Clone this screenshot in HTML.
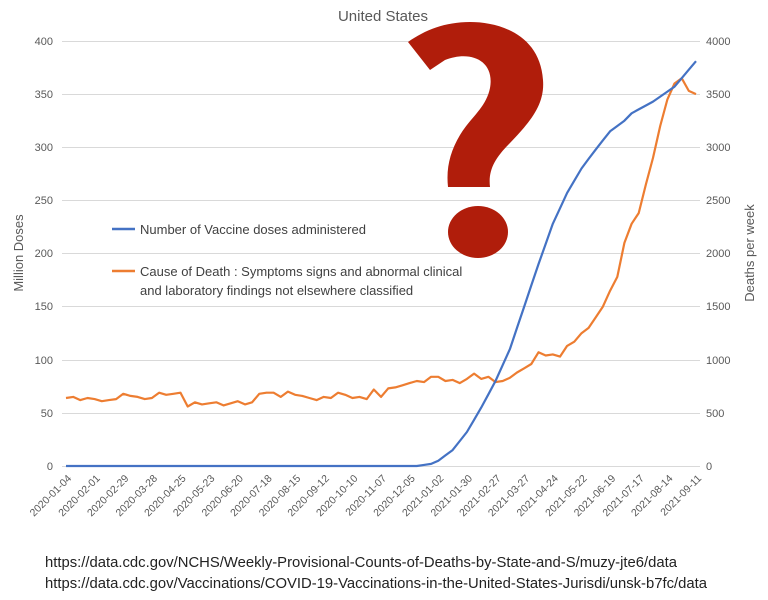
<!DOCTYPE html>
<html><head><meta charset="utf-8"><style>
html,body{margin:0;padding:0;background:#fff;}
svg{display:block;font-family:"Liberation Sans",sans-serif;}
</style></head><body>
<svg id="s" width="768" height="600" viewBox="0 0 768 600">
<rect width="768" height="600" fill="#fff"/>
<g stroke="#d9d9d9" stroke-width="1">
<line x1="62" y1="41.5" x2="700" y2="41.5"/>
<line x1="62" y1="94.5" x2="700" y2="94.5"/>
<line x1="62" y1="147.5" x2="700" y2="147.5"/>
<line x1="62" y1="200.5" x2="700" y2="200.5"/>
<line x1="62" y1="253.5" x2="700" y2="253.5"/>
<line x1="62" y1="306.5" x2="700" y2="306.5"/>
<line x1="62" y1="360.5" x2="700" y2="360.5"/>
<line x1="62" y1="413.5" x2="700" y2="413.5"/>
<line x1="62" y1="466.5" x2="700" y2="466.5"/>
</g>
<g font-size="11" fill="#595959" text-anchor="end">
<text x="53" y="45">400</text><text x="53" y="98">350</text><text x="53" y="151">300</text><text x="53" y="204">250</text><text x="53" y="257">200</text><text x="53" y="310">150</text><text x="53" y="364">100</text><text x="53" y="417">50</text><text x="53" y="470">0</text>
</g>
<g font-size="11" fill="#595959">
<text x="706" y="45">4000</text><text x="706" y="98">3500</text><text x="706" y="151">3000</text><text x="706" y="204">2500</text><text x="706" y="257">2000</text><text x="706" y="310">1500</text><text x="706" y="364">1000</text><text x="706" y="417">500</text><text x="706" y="470">0</text>
</g>
<text x="383" y="21" font-size="15" fill="#595959" text-anchor="middle">United States</text>
<text transform="translate(23,253) rotate(-90)" font-size="13" fill="#595959" text-anchor="middle">Million Doses</text>
<text transform="translate(754,253) rotate(-90)" font-size="13" fill="#595959" text-anchor="middle">Deaths per week</text>
<g id="xl" font-size="10.5" fill="#595959" text-anchor="end">
<text transform="translate(72,479) rotate(-45)">2020-01-04</text>
<text transform="translate(100.6,479) rotate(-45)">2020-02-01</text>
<text transform="translate(129.3,479) rotate(-45)">2020-02-29</text>
<text transform="translate(157.9,479) rotate(-45)">2020-03-28</text>
<text transform="translate(186.5,479) rotate(-45)">2020-04-25</text>
<text transform="translate(215.2,479) rotate(-45)">2020-05-23</text>
<text transform="translate(243.8,479) rotate(-45)">2020-06-20</text>
<text transform="translate(272.5,479) rotate(-45)">2020-07-18</text>
<text transform="translate(301.1,479) rotate(-45)">2020-08-15</text>
<text transform="translate(329.7,479) rotate(-45)">2020-09-12</text>
<text transform="translate(358.4,479) rotate(-45)">2020-10-10</text>
<text transform="translate(387,479) rotate(-45)">2020-11-07</text>
<text transform="translate(415.6,479) rotate(-45)">2020-12-05</text>
<text transform="translate(444.3,479) rotate(-45)">2021-01-02</text>
<text transform="translate(472.9,479) rotate(-45)">2021-01-30</text>
<text transform="translate(501.5,479) rotate(-45)">2021-02-27</text>
<text transform="translate(530.2,479) rotate(-45)">2021-03-27</text>
<text transform="translate(558.8,479) rotate(-45)">2021-04-24</text>
<text transform="translate(587.5,479) rotate(-45)">2021-05-22</text>
<text transform="translate(616.1,479) rotate(-45)">2021-06-19</text>
<text transform="translate(644.7,479) rotate(-45)">2021-07-17</text>
<text transform="translate(673.4,479) rotate(-45)">2021-08-14</text>
<text transform="translate(702,479) rotate(-45)">2021-09-11</text>
</g>
<line x1="112" y1="229" x2="135" y2="229" stroke="#4472c4" stroke-width="2.5"/>
<text x="140" y="234" font-size="13" fill="#404040">Number of Vaccine doses administered</text>
<line x1="112" y1="271" x2="135" y2="271" stroke="#ed7d31" stroke-width="2.5"/>
<text x="140" y="276" font-size="13" fill="#404040">Cause of Death : Symptoms signs and abnormal clinical</text>
<text x="140" y="295" font-size="13" fill="#404040">and laboratory findings not elsewhere classified</text>
<path d="M 408,42 L 430,70 L 445,60 C 470,50 495,60 490,88 C 486,108 470,118 460,135 C 450,152 446,168 448,187 L 490,187 C 488,170 495,158 510,143 C 530,122 545,105 543,80 C 540,35 500,22 470,22 C 445,22 425,30 408,42 Z" fill="#b01d0b"/>
<ellipse cx="478" cy="232" rx="30" ry="26" fill="#b01d0b"/>
<polyline id="or" fill="none" stroke="#ed7d31" stroke-width="2.2" stroke-linejoin="round"/>
<polyline id="bl" fill="none" stroke="#4472c4" stroke-width="2.2" stroke-linejoin="round"/>
<text x="45" y="567" font-size="15" fill="#222" textLength="632" lengthAdjust="spacingAndGlyphs">https://data.cdc.gov/NCHS/Weekly-Provisional-Counts-of-Deaths-by-State-and-S/muzy-jte6/data</text>
<text x="45" y="588" font-size="15" fill="#222" textLength="662" lengthAdjust="spacingAndGlyphs">https://data.cdc.gov/Vaccinations/COVID-19-Vaccinations-in-the-United-States-Jurisdi/unsk-b7fc/data</text>
</svg>
<script>
function X(w){return 66+w*630/88;}
function Y(v){return 466-v*425/400;}
function interp(k,w){for(var i=0;i<k.length-1;i++){if(w>=k[i][0]&&w<=k[i+1][0]){var t=(w-k[i][0])/(k[i+1][0]-k[i][0]);return k[i][1]+t*(k[i+1][1]-k[i][1]);}}return k[k.length-1][1];}
var o2020=[640,650,620,640,630,610,620,630,680,660,650,630,640,690,670,680,690,560,600,580,590,600,570,590,610,580,600,680,690,690,650,700,670,660,640,620,650,640,690,670,640,650,630,720,650,730,740,760,780,800,790,840];
var ok=[[52,840],[53,800],[54,810],[55,780],[56,820],[57,870],[58,820],[59,840],[60,790],[61,800],[62,830],[63,880],[64,920],[65,960],[66,1070],[67,1040],[68,1050],[69,1030],[70,1130],[71,1170],[72,1250],[73,1300],[74,1400],[75,1500],[76,1650],[77,1780],[78,2100],[79,2280],[80,2380],[81,2650],[82,2900],[83,3200],[84,3450],[85,3600],[86,3650],[87,3530],[88,3500]];
var bk=[[0,0],[49,0],[51,2],[52,5],[54,15],[56,32],[58,55],[60,80],[62,110],[64,150],[66,190],[68,228],[70,257],[72,280],[74,298],[76,315],[78,325],[79,332],[82,343],[85,357],[88,381]];
var po=[],pb=[];
for(var w=0;w<=88;w++){var v=w<52?o2020[w]:interp(ok,w);po.push(X(w).toFixed(1)+","+Y(v/10).toFixed(1));pb.push(X(w).toFixed(1)+","+Y(interp(bk,w)).toFixed(1));}
document.getElementById("or").setAttribute("points",po.join(" "));
document.getElementById("bl").setAttribute("points",pb.join(" "));
</script>
</body></html>
